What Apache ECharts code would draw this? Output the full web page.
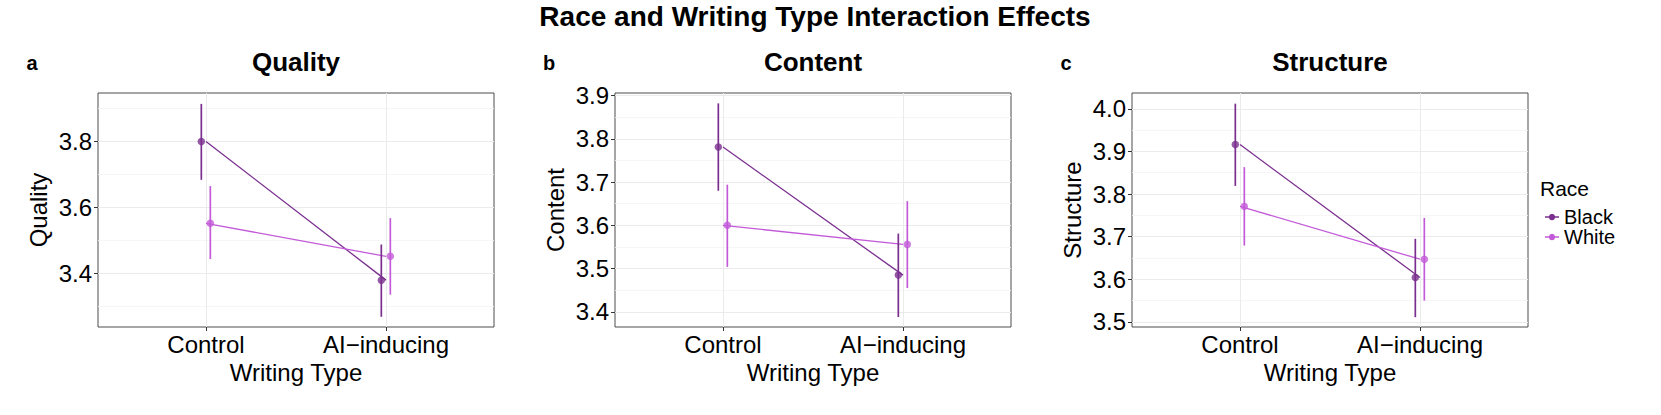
<!DOCTYPE html>
<html lang="en">
  <head>
    <meta charset="UTF-8" />
    <title>Race and Writing Type Interaction Effects</title>
    <script src="https://cdn.jsdelivr.net/npm/echarts@6/dist/echarts.min.js"></script>
    <style>
      html, body { margin: 0; padding: 0; background: #fff; }
    </style>
  </head>
  <body>
    <div id="main" style="width: 1661px;height:415px;"></div>
    <script type="text/javascript">
      var chart = echarts.init(document.getElementById('main'), null, { renderer: 'svg' })

      // x categories (placed at 1 and 2 on a value axis, like ggplot's discrete scale)
      var categories = ['Control', 'AI\u2212inducing']
      var races = ['Black', 'White']
      var panelNames = ['Quality', 'Content', 'Structure']
      var panelLetters = ['a', 'b', 'c']

      // means and 95% CI per panel, [Control, AI-inducing]
      var qualityBlack = [3.800, 3.380]
      var qualityBlackLo = [3.684, 3.269]
      var qualityBlackHi = [3.914, 3.488]
      var qualityWhite = [3.552, 3.452]
      var qualityWhiteLo = [3.444, 3.336]
      var qualityWhiteHi = [3.665, 3.568]

      var contentBlack = [3.781, 3.485]
      var contentBlackLo = [3.680, 3.388]
      var contentBlackHi = [3.882, 3.581]
      var contentWhite = [3.600, 3.556]
      var contentWhiteLo = [3.504, 3.455]
      var contentWhiteHi = [3.694, 3.656]

      var structureBlack = [3.916, 3.604]
      var structureBlackLo = [3.819, 3.511]
      var structureBlackHi = [4.012, 3.695]
      var structureWhite = [3.771, 3.647]
      var structureWhiteLo = [3.679, 3.550]
      var structureWhiteHi = [3.863, 3.744]

      // y tick labels and minor grid positions
      var qualityTicks = [3.4, 3.6, 3.8]
      var qualityMinor = [3.3, 3.5, 3.7, 3.9]
      var contentTicks = [3.4, 3.5, 3.6, 3.7, 3.8, 3.9]
      var contentMinor = [3.45, 3.55, 3.65, 3.75, 3.85]
      var structureTicks = [3.5, 3.6, 3.7, 3.8, 3.9, 4.0]
      var structureMinor = [3.55, 3.65, 3.75, 3.85, 3.95]

      var panels = [
        { black: qualityBlack, blackLo: qualityBlackLo, blackHi: qualityBlackHi,
          white: qualityWhite, whiteLo: qualityWhiteLo, whiteHi: qualityWhiteHi,
          ticks: qualityTicks, minor: qualityMinor, min: 3.238, max: 3.947 },
        { black: contentBlack, blackLo: contentBlackLo, blackHi: contentBlackHi,
          white: contentWhite, whiteLo: contentWhiteLo, whiteHi: contentWhiteHi,
          ticks: contentTicks, minor: contentMinor, min: 3.365, max: 3.906 },
        { black: structureBlack, blackLo: structureBlackLo, blackHi: structureBlackHi,
          white: structureWhite, whiteLo: structureWhiteLo, whiteHi: structureWhiteHi,
          ticks: structureTicks, minor: structureMinor, min: 3.488, max: 4.037 }
      ]

      var colors = { Black: '#7a2f8f', White: '#c35bd8' }
      var dodge = { Black: -0.026, White: 0.024 }
      var font = "'Liberation Sans', Arial, Helvetica, sans-serif"
      var gridLeft = [98, 615, 1132]
      var gridWidth = 396
      var gridTop = 93
      var gridHeight = 234

      var grids = []
      var xAxes = []
      var yAxes = []
      var series = []
      var graphics = []

      function errorBarSeries(name, xi, yi, xs, lo, hi) {
        return {
          type: 'custom',
          name: name,
          xAxisIndex: xi,
          yAxisIndex: yi,
          data: xs.map(function (x, i) { return [x, lo[i], hi[i]] }),
          renderItem: function (params, api) {
            var p1 = api.coord([api.value(0), api.value(1)])
            var p2 = api.coord([api.value(0), api.value(2)])
            return {
              type: 'line',
              shape: { x1: p1[0], y1: p1[1], x2: p2[0], y2: p2[1] },
              style: { stroke: colors[name], lineWidth: 1.7 }
            }
          },
          z: 3
        }
      }

      panels.forEach(function (p, k) {
        grids.push({
          left: gridLeft[k], top: gridTop, width: gridWidth, height: gridHeight,
          show: true, borderColor: '#4d4d4d', borderWidth: 1, backgroundColor: '#fff'
        })
        xAxes.push({
          type: 'value', gridIndex: k, min: 0.4, max: 2.6,
          name: 'Writing Type', nameLocation: 'middle', nameGap: 24,
          nameTextStyle: { fontFamily: font, fontSize: 24, color: '#000' },
          axisLine: { show: false },
          axisTick: { show: true, length: 4, customValues: [1, 2], lineStyle: { color: '#333' } },
          axisLabel: {
            customValues: [1, 2], margin: 5, fontFamily: font, fontSize: 24, color: '#000',
            formatter: function (v) { return categories[Math.round(v) - 1] }
          },
          splitLine: { show: true, lineStyle: { color: '#ebebeb', width: 1 } }
        })
        // main y axis: labels, ticks, major grid
        yAxes.push({
          type: 'value', gridIndex: k, min: p.min, max: p.max,
          name: panelNames[k], nameLocation: 'middle', nameGap: 48,
          nameTextStyle: { fontFamily: font, fontSize: 24, color: '#000' },
          axisLine: { show: false },
          axisTick: { show: true, length: 4, customValues: p.ticks, lineStyle: { color: '#333' } },
          axisLabel: {
            customValues: p.ticks, margin: 6, fontFamily: font, fontSize: 24, color: '#000',
            formatter: function (v) { return v.toFixed(1) }
          },
          splitLine: { show: true, lineStyle: { color: '#ebebeb', width: 1.2 } }
        })
        // hidden twin y axis: minor grid only
        yAxes.push({
          type: 'value', gridIndex: k, min: p.min, max: p.max, position: 'left',
          axisLine: { show: false },
          axisTick: { show: false, customValues: p.minor },
          axisLabel: { show: false, customValues: p.minor },
          splitLine: { show: true, lineStyle: { color: '#f4f4f4', width: 0.8 } }
        })
        var yi = k * 2
        races.forEach(function (r) {
          var mean = p[r.toLowerCase()]
          var lo = p[r.toLowerCase() + 'Lo']
          var hi = p[r.toLowerCase() + 'Hi']
          var xs = [1 + dodge[r], 2 + dodge[r]]
          series.push({
            type: 'line', name: r + ' mean', xAxisIndex: k, yAxisIndex: yi,
            data: [[1, mean[0]], [2, mean[1]]],
            symbol: 'none', lineStyle: { color: colors[r], width: 1.3 }, z: 2
          })
          series.push(errorBarSeries(r, k, yi, xs, lo, hi))
          series.push({
            type: 'scatter', name: r, xAxisIndex: k, yAxisIndex: yi,
            data: xs.map(function (x, i) { return [x, mean[i]] }),
            symbol: 'circle', symbolSize: 7.5,
            itemStyle: { color: colors[r] }, z: 4
          })
        })
        var cx = gridLeft[k] + gridWidth / 2
        graphics.push({
          type: 'text', x: cx, y: 62,
          style: { text: panelNames[k], font: 'bold 26px ' + font, fill: '#000', align: 'center', verticalAlign: 'middle' }
        })
        graphics.push({
          type: 'text', x: gridLeft[k] - 66, y: 63,
          style: { text: panelLetters[k], font: 'bold 20px ' + font, fill: '#000', align: 'center', verticalAlign: 'middle' }
        })
      })

      graphics.push({
        type: 'text', x: 815, y: 16,
        style: { text: 'Race and Writing Type Interaction Effects', font: 'bold 28px ' + font, fill: '#000', align: 'center', verticalAlign: 'middle' }
      })
      graphics.push({
        type: 'text', x: 1540, y: 188,
        style: { text: 'Race', font: '21px ' + font, fill: '#000', align: 'left', verticalAlign: 'middle' }
      })

      var keyIcon = 'path://M0,4.5H3.05A2.5,2.5 0 0 1 7.95,4.5H11V5.5H7.95A2.5,2.5 0 0 1 3.05,5.5H0Z'

      var option = {
        animation: false,
        backgroundColor: '#fff',
        grid: grids,
        xAxis: xAxes,
        yAxis: yAxes,
        legend: {
          orient: 'vertical', left: 1540, top: 202, itemGap: 0,
          itemWidth: 14, itemHeight: 7, selectedMode: false,
          data: races.map(function (r) { return { name: r, icon: keyIcon, itemStyle: { color: colors[r] } } }),
          textStyle: { fontFamily: font, fontSize: 20, color: '#000' }
        },
        graphic: graphics,
        series: series
      }

      chart.setOption(option)
    </script>
  </body>
</html>
